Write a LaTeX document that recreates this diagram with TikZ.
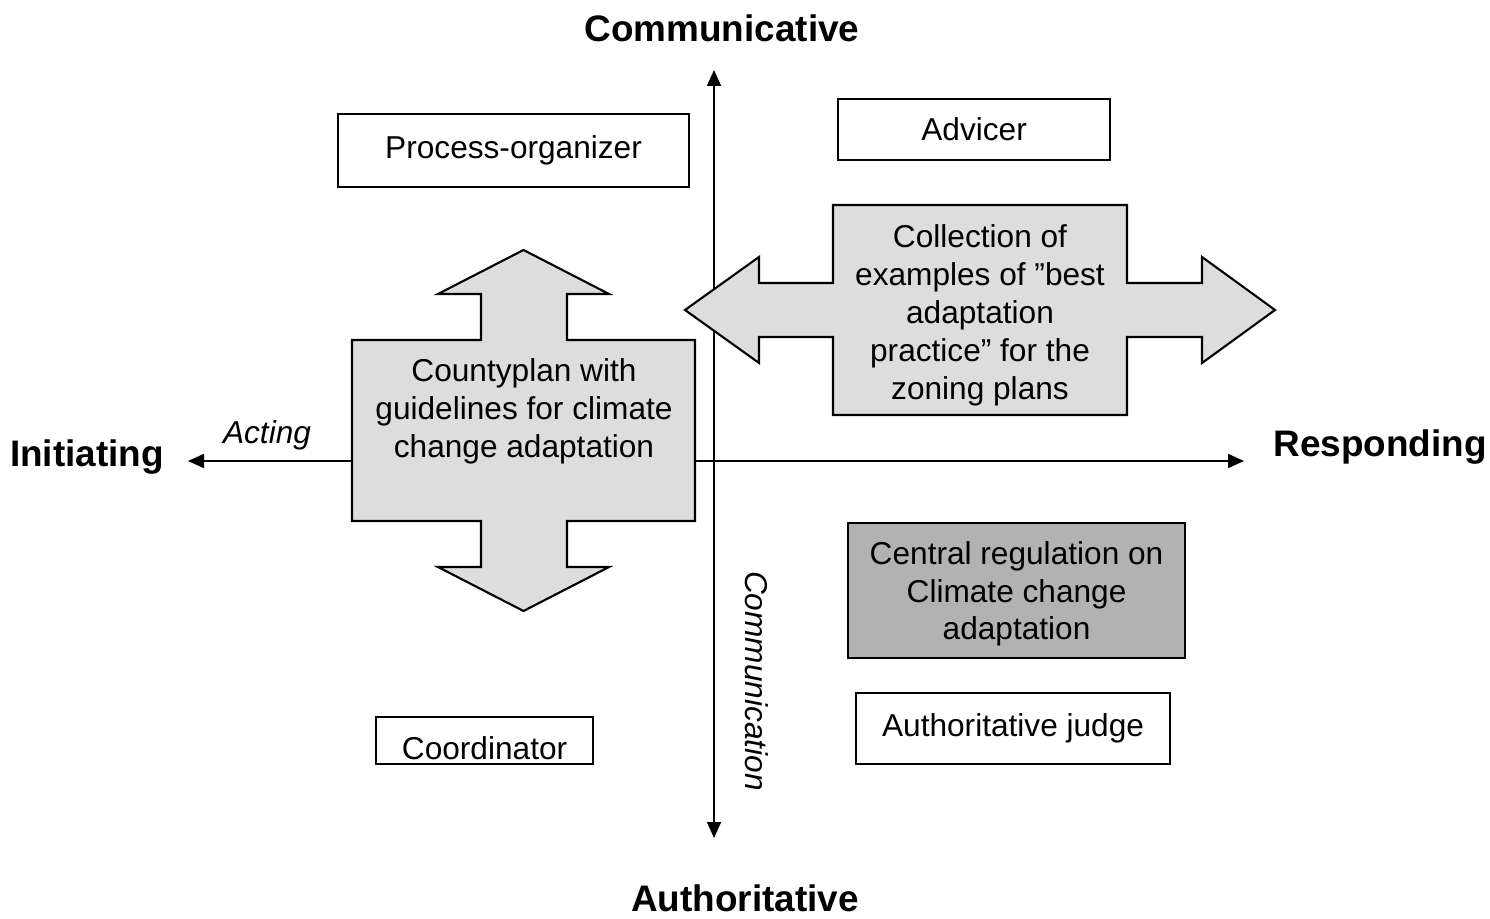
\documentclass[tikz,border=0pt]{standalone}
\usepackage{fontspec}
\setmainfont{Liberation Sans}
\usetikzlibrary{arrows.meta}

\definecolor{arrowgray}{RGB}{221,221,221}
\definecolor{rulegray}{RGB}{178,178,178}

\begin{document}
\begin{tikzpicture}[
	axis/.style = {line width = 0.5pt, {Triangle[length = 0.16cm, width = 0.14cm]}-{Triangle[length = 0.16cm, width = 0.14cm]}},
	rolebox/.style = {draw, line width = 0.6pt, fill = white, inner sep = 0pt, anchor = north west, align = center, font = \fontsize{9}{10.8}\selectfont},
	bigarrow/.style = {draw, line width = 0.6pt, fill = arrowgray},
	arrowtext/.style = {align = center, font = \fontsize{9}{10.8}\selectfont},
	pole/.style = {font = \fontsize{10.5}{12.6}\selectfont\bfseries},
	axislabel/.style = {font = \fontsize{9}{10.8}\selectfont\itshape}
	]
	 \useasboundingbox (0, 0) rectangle (14.9, 9.18);
	 
	 \coordinate (west) at (1.88, 4.57);
	 \coordinate (east) at (12.44, 4.57);
	 \coordinate (north) at (7.14, 8.48);
	 \coordinate (south) at (7.14, 0.80);
	 
	 \draw[axis] (west) -- (east);
	 \draw[axis] (north) -- (south);
	 
	 \node[pole] (communicative) at (7.22, 8.90) {Communicative};
	 \node[pole] (authoritative) at (7.45, 0.20) {Authoritative};
	 \node[pole] (initiating) at (0.87, 4.61) {Initiating};
	 \node[pole] (responding) at (13.80, 4.71) {Responding};
	 
	 \node[axislabel] (acting) at (2.67, 4.83) {Acting};
	 \node[axislabel, rotate = -90] (communication) at (7.57, 2.37) {Communication};
	 
	 % countyplan, double arrow up and down
	 \draw[bigarrow] (3.52, 5.78) -- (4.81, 5.78) -- (4.81, 6.24) -- (4.38, 6.24) -- (5.235, 6.68)
	 -- (6.09, 6.24) -- (5.67, 6.24) -- (5.67, 5.78) -- (6.95, 5.78) -- (6.95, 3.97)
	 -- (5.67, 3.97) -- (5.67, 3.51) -- (6.09, 3.51) -- (5.235, 3.07) -- (4.38, 3.51)
	 -- (4.81, 3.51) -- (4.81, 3.97) -- (3.52, 3.97) -- cycle;
	 \node[arrowtext] (countyplan) at (5.24, 5.07) {Countyplan with\\guidelines for climate\\change adaptation};
	 
	 % best practice, double arrow left and right
	 \draw[bigarrow] (8.33, 7.13) -- (11.27, 7.13) -- (11.27, 6.35) -- (12.02, 6.35) -- (12.02, 6.61)
	 -- (12.75, 6.08) -- (12.02, 5.55) -- (12.02, 5.81) -- (11.27, 5.81) -- (11.27, 5.03)
	 -- (8.33, 5.03) -- (8.33, 5.81) -- (7.59, 5.81) -- (7.59, 5.55) -- (6.85, 6.08)
	 -- (7.59, 6.61) -- (7.59, 6.35) -- (8.33, 6.35) -- cycle;
	 \node[arrowtext] (collection) at (9.80, 6.03) {Collection of\\examples of ''best\\adaptation\\practice'' for the\\zoning plans};
	 
	 \node[rolebox, minimum width = 3.51cm, minimum height = 0.73cm] (organizer) at (3.37, 8.05) {Process-organizer};
	 \node[rolebox, minimum width = 2.72cm, minimum height = 0.61cm] (advicer) at (8.37, 8.20) {Advicer};
	 \node[rolebox, fill = rulegray, minimum width = 3.37cm, minimum height = 1.35cm, text depth = 0cm] (regulation) at (8.47, 3.96) {Central regulation on\\Climate change\\adaptation};
	 \node[rolebox, minimum width = 3.14cm, minimum height = 0.71cm] (judge) at (8.55, 2.26) {Authoritative judge};
	 \node[rolebox, minimum width = 2.17cm, minimum height = 0.47cm, text height = 0.37cm, text depth = 0cm] (coordinator) at (3.75, 2.02) {Coordinator};
\end{tikzpicture}
\end{document}
